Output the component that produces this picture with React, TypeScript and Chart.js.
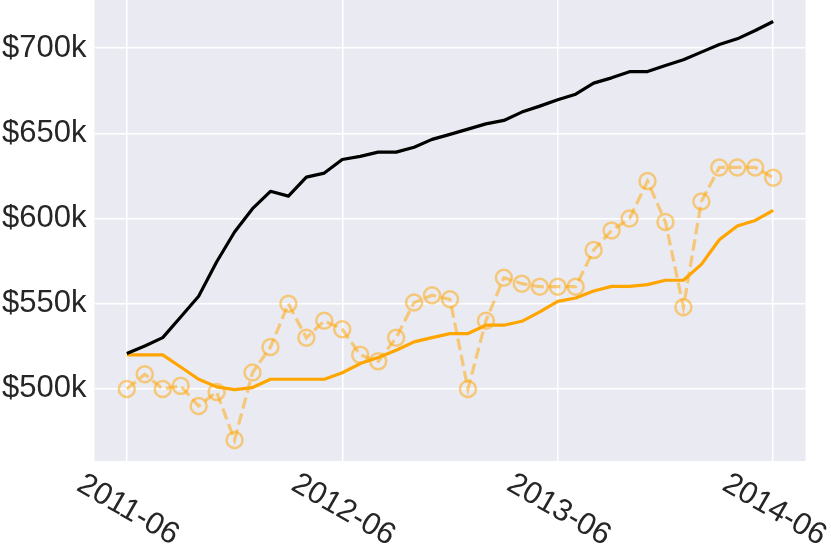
import React, { useEffect, useRef } from "react";
import { Chart, registerables } from "chart.js";

Chart.register(...registerables);

// Monthly series, 2011-06 .. 2014-06 (values in $k)
const months = Array.from({ length: 37 }, (_, i) => i);
const blackValues = [
  520.8, 525.2, 530.1, 542.2, 554.4, 574.5, 592.1, 605.8, 616, 613.2, 624.3, 626.7, 634.7,
  636.5, 639, 639, 641.9, 646.5, 649.4, 652.5, 655.6, 657.6, 662.5, 666, 669.7, 673,
  679.5, 682.6, 686.2, 686.3, 689.9, 693.2, 697.7, 702.2, 705.5, 710.4, 715.7,
];
const orangeValues = [
  520, 520, 520, 512.9, 505.7, 501.2, 499.6, 500.8, 505.7, 505.7, 505.7, 505.7, 509.5,
  514.9, 518.4, 522.7, 527.6, 530.1, 532.5, 532.5, 537.4, 537.4, 539.7, 545.2, 551.4, 553.4,
  557.5, 560.2, 560.2, 561.2, 563.8, 563.8, 573.1, 587.6, 595.6, 598.9, 604.8,
];
const dashedValues = [
  500, 508.6, 500, 501.8, 490, 498.2, 470, 509.6, 524.6, 550, 530, 540, 535,
  520, 516.2, 530, 550.7, 555, 552.6, 500, 540, 565.3, 561.8, 560, 560, 560,
  581.5, 593, 600, 622, 598, 548, 610, 630, 630, 630, 624,
];
const xTickValues = [0, 12, 24, 36];
const xTickLabels = ["2011-06", "2012-06", "2013-06", "2014-06"];
const yTickValues = [500, 550, 600, 650, 700];

const FONT = "'Liberation Sans', Arial, sans-serif";
const TEXT_COLOR = "#262626";

export default function App() {
  const ref = useRef<HTMLCanvasElement>(null);

  useEffect(() => {
    if (!ref.current) return;
    const toPts = (vals: number[]) => months.map((m, i) => ({ x: m, y: vals[i] }));

    const bgPlugin = {
      id: "bg",
      beforeDraw(chart: any) {
        const { ctx, chartArea } = chart;
        ctx.save();
        ctx.fillStyle = "#EAEAF2";
        ctx.fillRect(chartArea.left, chartArea.top, chartArea.right - chartArea.left, chartArea.bottom - chartArea.top);
        ctx.restore();
      },
      afterDraw(chart: any) {
        const { ctx } = chart;
        const xs = chart.scales.x;
        ctx.save();
        ctx.fillStyle = TEXT_COLOR;
        ctx.font = `31px ${FONT}`;
        ctx.textAlign = "center";
        ctx.textBaseline = "middle";
        xTickValues.forEach((v, i) => {
          const px = xs.getPixelForValue(v);
          ctx.save();
          ctx.translate(px + 1, chart.chartArea.bottom + 49);
          ctx.rotate((30 * Math.PI) / 180);
          ctx.fillText(xTickLabels[i], 0, 0);
          ctx.restore();
        });
        ctx.restore();
      },
    };

    const chart = new Chart(ref.current, {
      type: "line",
      data: {
        datasets: [
          {
            data: toPts(blackValues),
            borderColor: "#000000",
            borderWidth: 3.2,
            borderJoinStyle: "round",
            pointRadius: 0,
            fill: false,
            tension: 0,
          },
          {
            data: toPts(orangeValues),
            borderColor: "#FFA500",
            borderWidth: 3.2,
            borderJoinStyle: "round",
            pointRadius: 0,
            fill: false,
            tension: 0,
          },
          {
            data: toPts(dashedValues),
            borderColor: "rgba(255,165,0,0.5)",
            borderWidth: 3.2,
            borderDash: [11.5, 5],
            pointRadius: 8,
            pointBorderWidth: 2.5,
            pointBorderColor: "rgba(255,165,0,0.5)",
            pointBackgroundColor: "rgba(0,0,0,0)",
            fill: false,
            tension: 0,
          },
        ],
      },
      options: {
        animation: false,
        responsive: false,
        devicePixelRatio: 1,
        layout: { autoPadding: false, padding: { top: 0, right: 25.5, left: 0, bottom: 0 } },
        plugins: { legend: { display: false }, tooltip: { enabled: false } },
        scales: {
          x: {
            type: "linear",
            min: -1.8,
            max: 37.8,
            border: { display: false },
            grid: { color: "#FFFFFF", lineWidth: 1.5, drawTicks: false },
            ticks: { display: false },
            afterBuildTicks: (s: any) => {
              s.ticks = xTickValues.map((v) => ({ value: v }));
            },
            afterFit: (s: any) => {
              s.height = 92;
              s.paddingLeft = 0;
              s.paddingRight = 0;
              s.paddingTop = 0;
              s.paddingBottom = 0;
            },
          },
          y: {
            type: "linear",
            min: 457.7,
            max: 728.3,
            border: { display: false },
            grid: { color: "#FFFFFF", lineWidth: 1.5, drawTicks: false },
            ticks: {
              color: TEXT_COLOR,
              font: { family: FONT, size: 31 },
              padding: 8,
              callback: (v: any) => `$${v}k`,
            },
            afterBuildTicks: (s: any) => {
              s.ticks = yTickValues.map((v) => ({ value: v }));
            },
            afterFit: (s: any) => {
              s.width = 94.5;
              s.paddingTop = 0;
              s.paddingBottom = 0;
              s.paddingLeft = 0;
              s.paddingRight = 0;
            },
          },
        },
      },
      plugins: [bgPlugin],
    });
    return () => chart.destroy();
  }, []);

  return (
    <div style={{ position: "absolute", left: 0, top: 0, width: 831, height: 553, background: "#fff" }}>
      <canvas ref={ref} width={831} height={553} style={{ display: "block" }} />
    </div>
  );
}
